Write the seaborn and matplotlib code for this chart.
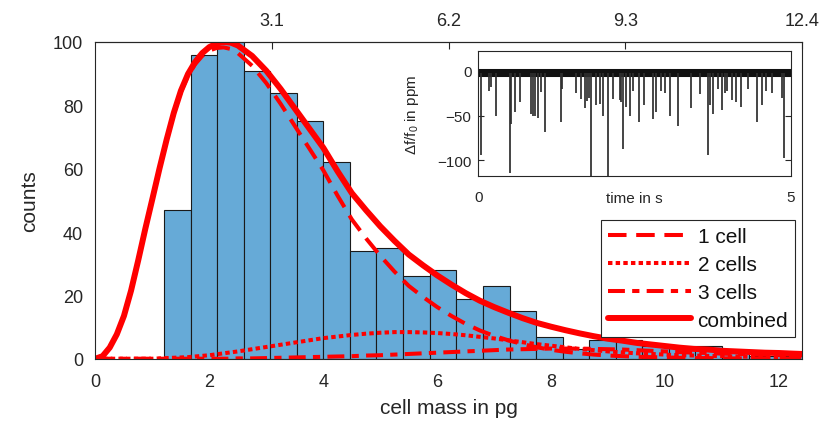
import numpy as np
import pandas as pd
import matplotlib
matplotlib.use("Agg")
import matplotlib.pyplot as plt
import seaborn as sns

# ---------------- data ----------------
bin_edges = [1.20, 1.67, 2.13, 2.60, 3.07, 3.53, 4.00, 4.47, 4.93, 5.40, 5.87, 6.33,
             6.80, 7.27, 7.73, 8.20, 8.67, 9.13, 9.60, 10.07, 10.53, 11.00, 11.47, 11.93, 12.40]
bin_counts = [47, 96, 100, 91, 84, 75, 62, 34, 35, 26, 28, 19,
              23, 15, 7, 3, 6, 6, 4, 4, 4, 2, 1, 1]

mass = [0.000, 0.125, 0.250, 0.375, 0.500, 0.625, 0.750, 0.875, 1.000, 1.125,
        1.250, 1.375, 1.500, 1.625, 1.750, 1.875, 2.000, 2.125, 2.250, 2.375,
        2.50, 2.75, 3.00, 3.25, 3.50, 3.75, 4.00, 4.25, 4.50, 4.75, 5.00, 5.25,
        5.50, 5.75, 6.00, 6.25, 6.50, 6.75, 7.00, 7.25, 7.50, 7.75, 8.00, 8.25,
        8.50, 8.75, 9.00, 9.25, 9.50, 9.75, 10.00, 10.25, 10.50, 10.75, 11.00,
        11.25, 11.50, 11.75, 12.00, 12.25, 12.40]
one_cell = [0, 0.8, 3.5, 7.7, 13.5, 21.5, 31, 41, 50.5, 60,
            69, 77.3, 84.2, 89.4, 93, 95.6, 97.3, 98.1, 98.3, 97.8,
            96.5, 92.5, 87, 80.5, 73.5, 66.5, 59.5, 51.5, 44, 38, 32.5, 27.5,
            23, 19.5, 16.3, 13.5, 11, 8.9, 7.2, 5.8, 4.6, 3.6, 2.8, 2.2,
            1.7, 1.3, 1.0, 0.8, 0.6, 0.5, 0.4, 0.3, 0.2, 0.2, 0.1,
            0.1, 0.1, 0.1, 0.1, 0.0, 0.0]
two_cells = [0, 0, 0, 0, 0, 0, 0, 0, 0, 0.1,
             0.2, 0.3, 0.4, 0.5, 0.7, 0.9, 1.1, 1.4, 1.7, 2.0,
             2.3, 3.0, 3.7, 4.4, 5.1, 5.8, 6.5, 7.0, 7.5, 7.9, 8.2, 8.4,
             8.4, 8.3, 8.1, 7.8, 7.4, 6.9, 6.4, 5.8, 5.2, 4.6, 4.1, 3.6,
             3.1, 2.7, 2.3, 2.0, 1.7, 1.5, 1.3, 1.1, 1.0, 0.9, 0.8,
             0.7, 0.6, 0.5, 0.5, 0.4, 0.4]
three_cells = [0, 0, 0, 0, 0, 0, 0, 0, 0, 0,
               0, 0, 0, 0, 0, 0, 0, 0, 0, 0,
               0.1, 0.1, 0.2, 0.3, 0.4, 0.5, 0.6, 0.7, 0.8, 1.0, 1.1, 1.3,
               1.5, 1.7, 1.9, 2.1, 2.3, 2.5, 2.7, 2.9, 3.0, 3.1, 3.2, 3.2,
               3.2, 3.1, 3.0, 2.9, 2.7, 2.5, 2.3, 2.1, 1.9, 1.8, 1.6,
               1.5, 1.4, 1.3, 1.2, 1.1, 1.0]
combined = [0, 0.8, 3.5, 7.7, 13.5, 21.5, 31, 41, 50.5, 60.1,
            69.2, 77.6, 84.6, 89.9, 93.7, 96.5, 98.4, 99.5, 100, 99.8,
            98.9, 95.6, 90.9, 85.2, 79, 72.8, 66.6, 59.2, 52.3, 46.9, 41.8, 37.2,
            32.9, 29.5, 26.3, 23.4, 20.7, 18.3, 16.3, 14.5, 12.8, 11.3, 10.1, 9.0,
            8.0, 7.1, 6.3, 5.7, 5.0, 4.5, 4.0, 3.5, 3.1, 2.9, 2.5,
            2.3, 2.1, 1.9, 1.8, 1.6, 1.5]

# inset: resonance-frequency trace, spikes (time in s, depth in ppm)
spike_time = [0.04, 0.17, 0.20, 0.29, 0.51, 0.53, 0.59, 0.67, 0.85, 0.88, 0.90, 0.96,
              1.01, 1.07, 1.32, 1.34, 1.56, 1.64, 1.71, 1.74, 1.77, 1.81, 1.89, 1.94,
              2.00, 2.07, 2.15, 2.26, 2.29, 2.32, 2.36, 2.42, 2.47, 2.57, 2.65, 2.79,
              2.84, 2.92, 2.99, 3.06, 3.20, 3.40, 3.55, 3.68, 3.71, 3.76, 3.84, 3.90,
              3.95, 3.98, 4.06, 4.12, 4.21, 4.31, 4.46, 4.54, 4.60, 4.70, 4.86, 4.89]
spike_depth = [-94, -22, -18, -51, -114, -59, -46, -35, -48, -50, -51, -53,
               -24, -68, -57, -20, -25, -31, -42, -34, -30, -130, -38, -37,
               -50, -130, -31, -33, -35, -87, -40, -51, -23, -57, -38, -54,
               -46, -23, -25, -51, -62, -41, -26, -94, -38, -48, -20, -44,
               -25, -22, -33, -35, -40, -20, -57, -38, -22, -25, -30, -97]
trace_baseline = -2.0

# ---------------- style ----------------
sns.set_theme(style="white")
plt.rcParams["font.family"] = ["Liberation Sans", "DejaVu Sans"]
plt.rcParams["mathtext.fontset"] = "custom"
plt.rcParams["mathtext.rm"] = "Liberation Sans"
plt.rcParams["mathtext.it"] = "Liberation Sans:italic"
dark = "#262626"

fig = plt.figure(figsize=(8.3, 4.27), dpi=100)
ax = fig.add_axes([0.115, 0.1576, 0.851, 0.7417])

centers = [(a + b) / 2 for a, b in zip(bin_edges[:-1], bin_edges[1:])]
sns.histplot(x=centers, weights=bin_counts, bins=bin_edges, ax=ax,
             color="#66AAD7", alpha=1.0, edgecolor="#1a1a1a", linewidth=0.8)

curves = pd.DataFrame({"mass": mass, "1 cell": one_cell, "2 cells": two_cells,
                       "3 cells": three_cells, "combined": combined})
red = "#FF0000"
sns.lineplot(data=curves, x="mass", y="1 cell", ax=ax, color=red, lw=2.9,
             linestyle=(0, (4.6, 2.4)), label="1 cell")
sns.lineplot(data=curves, x="mass", y="2 cells", ax=ax, color=red, lw=2.9,
             linestyle=(0, (1.1, 0.8)), label="2 cells")
sns.lineplot(data=curves, x="mass", y="3 cells", ax=ax, color=red, lw=2.9,
             linestyle=(0, (4.2, 1.8, 1.8, 1.8)), label="3 cells")
sns.lineplot(data=curves, x="mass", y="combined", ax=ax, color=red, lw=4.3,
             linestyle="-", label="combined")

ax.set_xlim(0, 12.4)
ax.set_ylim(0, 100)
ax.set_xticks([0, 2, 4, 6, 8, 10, 12])
ax.set_yticks([0, 20, 40, 60, 80, 100])
ax.tick_params(direction="in", length=5, width=0.8, colors=dark, labelsize=13,
               labelcolor=dark)
ax.tick_params(axis="x", pad=10)
ax.tick_params(axis="y", pad=9)
for s in ax.spines.values():
    s.set_visible(True)
    s.set_color(dark)
    s.set_linewidth(0.8)
ax.set_xlabel("cell mass in pg", fontsize=15, color=dark)
ax.set_ylabel("counts", fontsize=15, color=dark)
ax.xaxis.set_label_coords(0.5, -0.155)
ax.xaxis.label.set_va("center")
ax.yaxis.set_label_coords(-0.093, 0.5)
ax.yaxis.label.set_va("center")

top = ax.secondary_xaxis("top")
top.set_xticks([3.1, 6.2, 9.3, 12.4])
top.set_xticklabels(["3.1", "6.2", "9.3", "12.4"])
top.tick_params(direction="in", length=5, width=0.8, colors=dark, labelsize=13,
                labelcolor=dark, pad=9)
top.spines["top"].set_color(dark)
top.spines["top"].set_linewidth(0.8)

leg = ax.legend(loc="lower right", bbox_to_anchor=(0.991, 0.069), borderaxespad=0,
                fontsize=15, handlelength=4.0, handletextpad=0.3, labelspacing=0.42,
                borderpad=0.35, frameon=True, fancybox=False, framealpha=1)
leg.get_frame().set_edgecolor(dark)
leg.get_frame().set_linewidth(0.8)
for t in leg.get_texts():
    t.set_color("#111111")

# ---------------- inset ----------------
axi = fig.add_axes([0.5763, 0.5848, 0.3764, 0.2927])
axi.set_facecolor("white")
axi.axhline(trace_baseline, color="#111111", lw=5.8, zorder=2)
axi.vlines(spike_time, trace_baseline, spike_depth, color="#2e2e2e", lw=1.25, zorder=3)
axi.set_xlim(0, 5)
axi.set_ylim(-118, 22)
axi.set_xticks([0, 5])
axi.set_yticks([-100, -50, 0])
axi.tick_params(direction="in", length=4, width=0.8, colors=dark, labelsize=11,
                labelcolor=dark, right=True, left=True)
axi.tick_params(axis="x", pad=10)
axi.tick_params(axis="y", pad=5)
for s in axi.spines.values():
    s.set_visible(True)
    s.set_color(dark)
    s.set_linewidth(0.8)
axi.set_xlabel("time in s", fontsize=11, color=dark)
axi.xaxis.set_label_coords(0.5, -0.17)
axi.xaxis.label.set_va("center")
axi.set_ylabel("\u0394f/f$_\\mathrm{0}$ in ppm", fontsize=11, color=dark)
axi.yaxis.set_label_coords(-0.212, 0.5)
axi.yaxis.label.set_va("center")

fig.savefig("out.png", dpi=100)
